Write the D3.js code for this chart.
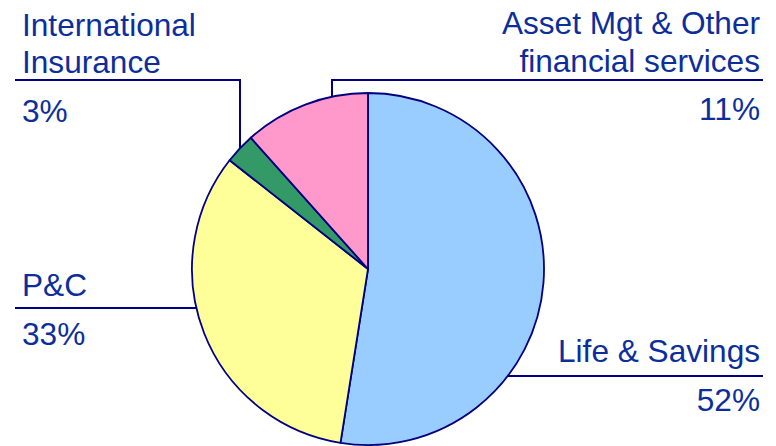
<!DOCTYPE html>
<html><head><meta charset="utf-8">
<script src="https://cdn.jsdelivr.net/npm/d3@7"></script>
<style>html,body{margin:0;padding:0;background:#fff;}svg{display:block;}</style>
</head><body>
<svg id="chart" width="776" height="446"></svg>
<script>
// Data (clockwise from 12 o'clock)
const categories = ["Life & Savings", "P&C", "International Insurance", "Asset Mgt & Other financial services"];
const values = [52.5, 33.1, 2.8, 11.6];
const pctLabels = ["52%", "33%", "3%", "11%"];
const colors = ["#99CCFF", "#FFFF99", "#339966", "#FF99CC"];

// Label layout
const labelLines = [
  ["Life & Savings"],
  ["P&C"],
  ["International", "Insurance"],
  ["Asset Mgt & Other", "financial services"]
];

const svg = d3.select("#chart");
const cx = 368, cy = 269, r = 176;
const textColor = "#0B2E9C", lineColor = "#000080";

const pie = d3.pie().sort(null).value(d => d)(values);
const arc = d3.arc().innerRadius(0).outerRadius(r);

const g = svg.append("g").attr("transform", `translate(${cx},${cy})`);
g.selectAll("path").data(pie).join("path")
  .attr("d", arc)
  .attr("fill", (d, i) => colors[i])
  .attr("stroke", lineColor)
  .attr("stroke-width", 1.8)
  .attr("stroke-linejoin", "round");

// point on circle helpers
const xOnCircleAtY = (y, side) => cx + side * Math.sqrt(r * r - (y - cy) * (y - cy));
const yOnCircleAtX = (x) => cy - Math.sqrt(r * r - (x - cx) * (x - cx));

const fs = 31.6;
const lines = svg.append("g").attr("stroke", lineColor).attr("stroke-width", 2).attr("fill", "none");
const texts = svg.append("g").attr("fill", textColor)
  .style("font-family", "Arial, 'Liberation Sans', sans-serif").style("font-size", fs + "px");

// Life & Savings (right, lower)
{
  const y = 376;
  lines.append("line").attr("x1", xOnCircleAtY(y, 1)).attr("y1", y).attr("x2", 763).attr("y2", y);
  texts.append("text").attr("x", 760).attr("y", 362).attr("text-anchor", "end").text(labelLines[0][0]);
  texts.append("text").attr("x", 760).attr("y", 411).attr("text-anchor", "end").text(pctLabels[0]);
}
// P&C (left)
{
  const y = 308;
  lines.append("line").attr("x1", 15).attr("y1", y).attr("x2", xOnCircleAtY(y, -1)).attr("y2", y);
  texts.append("text").attr("x", 22).attr("y", 296).text(labelLines[1][0]);
  texts.append("text").attr("x", 22).attr("y", 345).text(pctLabels[1]);
}
// International Insurance (top-left, elbow)
{
  const y = 80, xv = 240;
  lines.append("polyline").attr("points", [[15, y], [xv, y], [xv, yOnCircleAtX(xv)]].map(p => p.join(",")).join(" "));
  texts.append("text").attr("x", 22).attr("y", 36).text(labelLines[2][0]);
  texts.append("text").attr("x", 22).attr("y", 73).text(labelLines[2][1]);
  texts.append("text").attr("x", 22).attr("y", 122).text(pctLabels[2]);
}
// Asset Mgt (top-right, elbow)
{
  const y = 80, xv = 332;
  lines.append("polyline").attr("points", [[xv, yOnCircleAtX(xv)], [xv, y], [763, y]].map(p => p.join(",")).join(" "));
  texts.append("text").attr("x", 760).attr("y", 34).attr("text-anchor", "end").text(labelLines[3][0]);
  texts.append("text").attr("x", 760).attr("y", 72).attr("text-anchor", "end").text(labelLines[3][1]);
  texts.append("text").attr("x", 760).attr("y", 120).attr("text-anchor", "end").text(pctLabels[3]);
}
</script>
</body></html>
